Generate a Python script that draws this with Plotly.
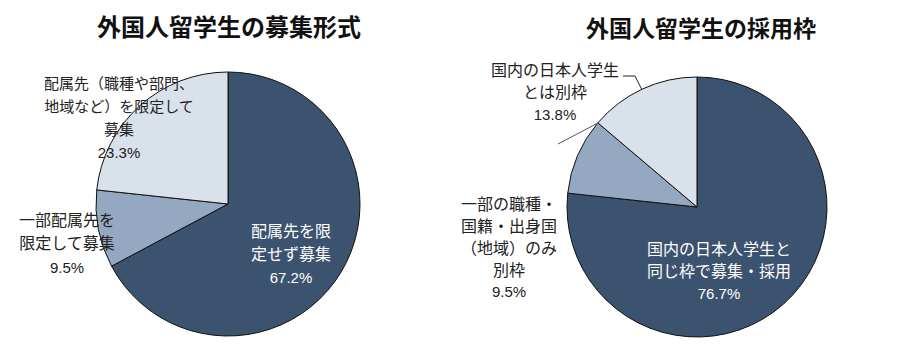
import plotly.graph_objects as go

# ---- data ----
left_title = "外国人留学生の募集形式"
left_labels = ["配属先を限定せず募集", "一部配属先を限定して募集", "配属先（職種や部門、地域など）を限定して募集"]
left_values = [67.2, 9.5, 23.3]
left_label_lines = [["配属先を限", "定せず募集"], ["一部配属先を", "限定して募集"], ["配属先（職種や部門、", "地域など）を限定して", "募集"]]

right_title = "外国人留学生の採用枠"
right_labels = ["国内の日本人学生と同じ枠で募集・採用", "一部の職種・国籍・出身国（地域）のみ別枠", "国内の日本人学生とは別枠"]
right_values = [76.7, 9.5, 13.8]
right_label_lines = [["国内の日本人学生と", "同じ枠で募集・採用"], ["一部の職種・", "国籍・出身国", "（地域）のみ", "別枠"], ["国内の日本人学生", "とは別枠"]]

colors = ["#3c536f", "#95a8c1", "#d9e1ea"]
text_colors = ["#ffffff", "#222222", "#222222"]

W, H = 902, 356
FONT = "Noto Sans CJK JP, sans-serif"


def px(x):
    return x / W


def py(y):
    return 1 - y / H


fig = go.Figure()
fig.add_trace(go.Pie(
    labels=left_labels, values=left_values, sort=False, direction="clockwise", rotation=0,
    marker=dict(colors=colors, line=dict(color="#111111", width=1)),
    textinfo="none", hoverinfo="label+percent",
    domain=dict(x=[px(96), px(360)], y=[py(336), py(72)]), showlegend=False,
))
fig.add_trace(go.Pie(
    labels=right_labels, values=right_values, sort=False, direction="clockwise", rotation=0,
    marker=dict(colors=colors, line=dict(color="#111111", width=1)),
    textinfo="none", hoverinfo="label+percent",
    domain=dict(x=[px(567), px(827)], y=[py(337), py(77)]), showlegend=False,
))

annotations = []


def add_label(lines, value, cx, cy, color, spacing=17.5, size=16):
    parts = [f'<span style="font-size:{size}px">{t}</span>' for t in lines]
    parts.append(f'<span style="font-family:Liberation Sans Narrow, Liberation Sans, sans-serif;'
                 f'font-size:15px">{value:.1f}%</span>')
    annotations.append(dict(
        x=px(cx), y=py(cy), xref="paper", yref="paper",
        text="<br>".join(parts), showarrow=False, xanchor="center", yanchor="middle",
        align="center", borderpad=0,
        font=dict(family=FONT, size=spacing, color=color),
    ))


# titles
annotations.append(dict(x=px(229), y=py(25), xref="paper", yref="paper", text=f"<b>{left_title}</b>",
                        showarrow=False, xanchor="center", yanchor="middle",
                        font=dict(family="Noto Sans CJK JP", size=24, color="#111111")))
annotations.append(dict(x=px(701), y=py(27), xref="paper", yref="paper", text=f"<b>{right_title}</b>",
                        showarrow=False, xanchor="center", yanchor="middle",
                        font=dict(family="Noto Sans CJK JP", size=23, color="#111111")))

# left labels
add_label(left_label_lines[0], left_values[0], 291, 252, text_colors[0], spacing=17.7)
add_label(left_label_lines[1], left_values[1], 67, 241.5, text_colors[1], spacing=17.9)
add_label(left_label_lines[2], left_values[2], 119, 116.5, text_colors[2], spacing=17.6, size=15)

# right labels
add_label(right_label_lines[0], right_values[0], 719, 269, text_colors[0], spacing=16.9)
add_label(right_label_lines[1], right_values[1], 509, 245.5, text_colors[1], spacing=16.8)
add_label(right_label_lines[2], right_values[2], 555, 90, text_colors[2], spacing=16.9)

shapes = [
    dict(type="path", xref="paper", yref="paper",
         path=f"M {px(623)} {py(76)} L {px(635)} {py(76)} L {px(642)} {py(90)}",
         line=dict(color="#222222", width=1)),
    dict(type="line", xref="paper", yref="paper",
         x0=px(558), y0=py(144), x1=px(598), y1=py(123),
         line=dict(color="#555555", width=1)),
]

fig.update_layout(
    width=W, height=H, margin=dict(l=0, r=0, t=0, b=0),
    paper_bgcolor="white", plot_bgcolor="white",
    annotations=annotations, shapes=shapes, showlegend=False,
)

fig.write_html("out.html", config={"displayModeBar": False},
               post_script="document.body.style.margin='0';")
